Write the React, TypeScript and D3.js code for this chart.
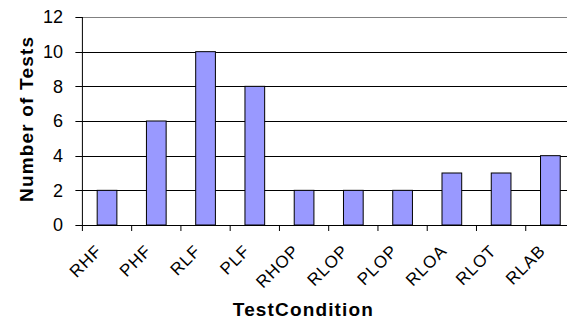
import React from "react";
import * as d3 from "d3";

const categories = ["RHF", "PHF", "RLF", "PLF", "RHOP", "RLOP", "PLOP", "RLOA", "RLOT", "RLAB"];
const values = [2, 6, 10, 8, 2, 2, 2, 3, 3, 4];
const yTicks = [0, 2, 4, 6, 8, 10, 12];
const xTitle = "TestCondition";
const yTitle = "Number of Tests";

const W = 567;
const H = 322;
const left = 82.4;
const right = 575;
const top = 17;
const bottom = 225;
const FONT = "Arial, 'Liberation Sans', sans-serif";

export default function App() {
  const x = d3.scaleBand<string>().domain(categories).range([left, right]).padding(0);
  const y = d3.scaleLinear().domain([0, 12]).range([bottom, top]);
  const bw = x.bandwidth() * 0.4;

  return (
    <div style={{ position: "absolute", left: 0, top: 0 }}>
      <svg width={W} height={H} style={{ display: "block", background: "#fff" }} fontFamily={FONT}>
        {yTicks.filter((t) => t > 0).map((t) => (
          <line
            key={"g" + t}
            x1={left}
            x2={right}
            y1={Math.round(y(t)) + 0.5}
            y2={Math.round(y(t)) + 0.5}
            stroke={t === 12 ? "#808080" : "#000"}
            strokeWidth={1}
          />
        ))}
        {categories.map((c, i) => {
          const cx = (x(c) as number) + x.bandwidth() / 2;
          return (
            <rect
              key={c}
              x={cx - bw / 2}
              y={y(values[i])}
              width={bw}
              height={y(0) - y(values[i])}
              fill="#9999FF"
              stroke="#000"
              strokeWidth={1}
            />
          );
        })}
        <line x1={left} x2={left} y1={top} y2={bottom} stroke="#000" strokeWidth={1} />
        {yTicks.map((t) => (
          <g key={"yt" + t}>
            <line x1={left - 7} x2={left} y1={Math.round(y(t)) + 0.5} y2={Math.round(y(t)) + 0.5} stroke="#000" />
            <text x={63} y={y(t)} dy="0.35em" textAnchor="end" fontSize={18} fill="#000">
              {t}
            </text>
          </g>
        ))}
        <line x1={left} x2={right} y1={bottom + 0.5} y2={bottom + 0.5} stroke="#000" strokeWidth={1} />
        {d3.range(categories.length + 1).map((i) => {
          const xx = left + i * x.step();
          return <line key={"xt" + i} x1={xx} x2={xx} y1={bottom} y2={bottom + 6} stroke="#000" />;
        })}
        {categories.map((c) => {
          const cx = (x(c) as number) + x.bandwidth() / 2;
          return (
            <text
              key={"xl" + c}
              transform={`translate(${cx - 4},${252}) rotate(-45)`}
              textAnchor="end"
              fontSize={17}
              letterSpacing={0.8}
              fill="#000"
            >
              {c}
            </text>
          );
        })}
        <text x={302.8} y={316} textAnchor="middle" fontSize={19} fontWeight="bold" textLength={140} lengthAdjust="spacing" fill="#000">
          {xTitle}
        </text>
        <text
          transform={`translate(33,119.5) rotate(-90)`}
          textAnchor="middle"
          fontSize={19}
          fontWeight="bold"
          textLength={165}
          lengthAdjust="spacing"
          fill="#000"
        >
          {yTitle}
        </text>
      </svg>
    </div>
  );
}
